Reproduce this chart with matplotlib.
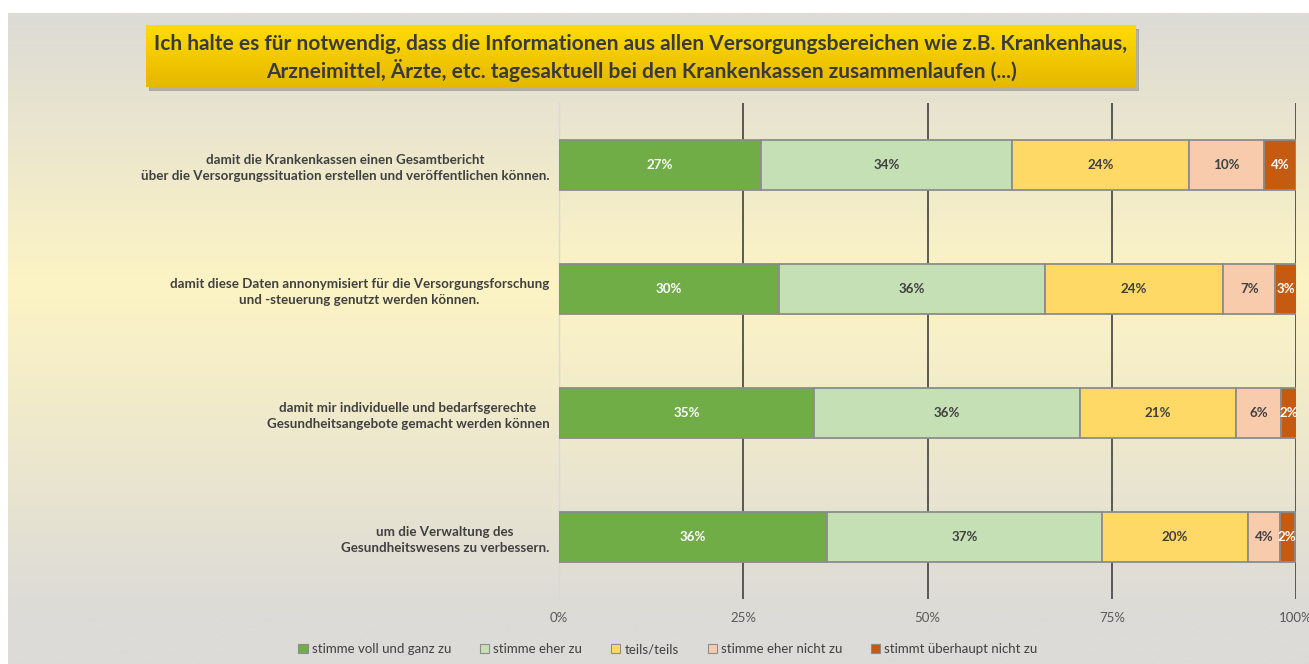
import numpy as np
import matplotlib
matplotlib.use("Agg")
import matplotlib.pyplot as plt
from matplotlib.patches import Rectangle, Patch
from matplotlib.colors import to_rgb

categories = [
    "damit die Krankenkassen einen Gesamtbericht\nüber die Versorgungssituation erstellen und veröffentlichen können.",
    "damit diese Daten annonymisiert für die Versorgungsforschung\nund -steuerung genutzt werden können.",
    "damit mir individuelle und bedarfsgerechte\nGesundheitsangebote gemacht werden können",
    "um die Verwaltung des\nGesundheitswesens zu verbessern.",
]
series_names = ["stimme voll und ganz zu", "stimme eher zu", "teils/teils",
                "stimme eher nicht zu", "stimmt überhaupt nicht zu"]
voll = [27.4, 29.9, 34.6, 36.4]
eher = [34.1, 36.0, 36.1, 37.3]
teils = [24.0, 24.2, 21.2, 19.8]
eher_nicht = [10.2, 7.1, 6.0, 4.3]
gar_nicht = [4.3, 3.0, 2.3, 2.0]
series = [voll, eher, teils, eher_nicht, gar_nicht]
xticks = [0, 25, 50, 75, 100]
xticklabels = ["0%", "25%", "50%", "75%", "100%"]
title = ("Ich halte es für notwendig, dass die Informationen aus allen Versorgungsbereichen wie z.B. Krankenhaus,\n"
         "Arzneimittel, Ärzte, etc. tagesaktuell bei den Krankenkassen zusammenlaufen (...)")

colors = ["#70ad47", "#c5e0b4", "#ffd966", "#f8cbad", "#c55a11"]
label_colors = ["white", "#404040", "#404040", "#404040", "white"]

FONT = "Lato"
W, H = 1309, 664
fig = plt.figure(figsize=(W / 100, H / 100), dpi=100)
fig.patch.set_facecolor("white")

# background gradient panel
bg = fig.add_axes([8 / W, 0, 1 - 8 / W, 1 - 13 / H], zorder=-10)
top = np.array(to_rgb("#dcdbd6"))
mid = np.array(to_rgb("#fdf4c4"))
bot = np.array(to_rgb("#dcdbd7"))
n = 400
t = np.linspace(0, 1, n)
tm = 0.42
grad = np.zeros((n, 1, 3))
for i, v in enumerate(t):
    if v < tm:
        f = v / tm
        grad[i, 0] = top * (1 - f) + mid * f
    else:
        f = min((v - tm) / 0.5, 1)
        grad[i, 0] = mid * (1 - f) + bot * f
bg.imshow(grad, aspect="auto", extent=[0, 1, 1, 0])
bg.set_xlim(0, 1)
bg.set_ylim(1, 0)
bg.axis("off")

# main axes
ax = fig.add_axes([559 / W, 1 - 599 / H, (1296 - 559) / W, (599 - 103) / H])
ax.set_facecolor("none")
y = np.arange(len(categories))
left = np.zeros(len(categories))
for k, (vals, c, lc) in enumerate(zip(series, colors, label_colors)):
    vals = np.array(vals)
    ax.barh(y, vals, left=left, height=0.40, color=c, edgecolor="#8c8c8c",
            linewidth=1.3, zorder=3, label=series_names[k])
    for yi, v, l0 in zip(y, vals, left):
        ax.text(l0 + v / 2, yi, f"{v:.0f}%", ha="center", va="center",
                color=lc, fontsize=9.6, fontweight="bold", family=FONT, zorder=4)
    left = left + vals

ax.set_xlim(0, 100)
ax.set_ylim(3.5, -0.5)
ax.set_xticks(xticks)
ax.set_xticklabels(xticklabels, family=FONT, fontsize=9.5, color="#595959")
ax.tick_params(axis="x", length=0, pad=9)
ax.set_yticks(y)
ax.set_yticklabels(categories, family=FONT, fontsize=9.6, fontweight="bold",
                   color="#404040", multialignment="center", linespacing=1.35)
ax.tick_params(axis="y", length=0, pad=7)
for xv in xticks[1:]:
    ax.axvline(xv, color="#404040", linewidth=1.2, zorder=1)
for s in ["top", "right", "bottom"]:
    ax.spines[s].set_visible(False)
ax.spines["left"].set_color("#d9d9d9")
ax.spines["left"].set_linewidth(1.0)

# title box with shadow and gradient
tb_l, tb_r, tb_t, tb_b = 146, 1136, 25, 87
shadow = fig.add_axes([(tb_l + 3) / W, 1 - (tb_b + 4) / H, (tb_r - tb_l) / W, (tb_b - tb_t) / H], zorder=1)
shadow.add_patch(Rectangle((0, 0), 1, 1, color="#8a8a80", alpha=0.55))
shadow.axis("off")
tax = fig.add_axes([tb_l / W, 1 - tb_b / H, (tb_r - tb_l) / W, (tb_b - tb_t) / H], zorder=2)
g1 = np.array(to_rgb("#ffdc00"))
g2 = np.array(to_rgb("#e6b700"))
tg = np.linspace(0, 1, 100)[:, None, None]
tax.imshow(g1 * (1 - tg) + g2 * tg, aspect="auto", extent=[0, 1, 0, 1])
tax.set_xlim(0, 1)
tax.set_ylim(0, 1)
tax.axis("off")
tax.text(0.5, 0.47, title, ha="center", va="center", family=FONT, fontsize=15.0,
         fontweight="bold", color="#3a3a3a", linespacing=1.3)

# legend
handles = [Patch(facecolor=c, edgecolor="#8c8c8c", linewidth=0.8) for c in colors]
leg = fig.legend(handles, series_names, loc="center", bbox_to_anchor=(668 / W, 1 - 649 / H),
                 ncol=5, frameon=False, handlelength=0.7, handleheight=0.7,
                 handletextpad=0.3, columnspacing=2.2,
                 prop={"family": FONT, "size": 9.5})
for t_ in leg.get_texts():
    t_.set_color("#404040")

fig.savefig("out.png", dpi=100)
